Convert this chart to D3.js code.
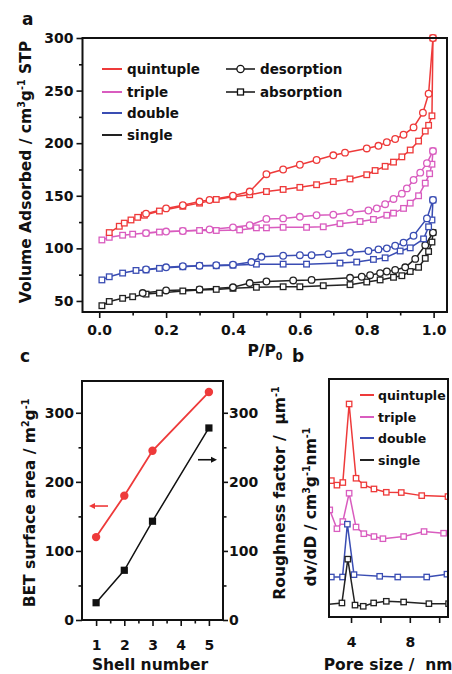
<!DOCTYPE html>
<html>
<head>
<meta charset="utf-8">
<script src="https://cdn.jsdelivr.net/npm/d3@7"></script>
<style>
  body { margin: 0; background: #fff; }
  text { font-family: "DejaVu Sans", sans-serif; font-weight: bold; fill: #111; white-space: pre; }
</style>
</head>
<body>
<svg id="fig" width="452" height="674"></svg>
<script>
// ---- panel a : N2 isotherms, [P/P0, volume] ----
var quintupleAds = [[0.03,115],[0.06,121],[0.075,124],[0.095,127],[0.115,129.5],[0.135,131.5],[0.18,135.5],[0.25,140],[0.3,143],[0.35,146.5],[0.4,149],[0.45,151],[0.5,154],[0.55,156],[0.6,158],[0.65,160.5],[0.7,163.5],[0.75,166],[0.8,170],[0.825,174],[0.855,178],[0.88,182],[0.905,187],[0.93,193.5],[0.955,202],[0.975,211.5],[0.985,217],[0.995,226],[0.998,300]];
var quintupleDes = [[0.998,300],[0.985,247],[0.968,229],[0.94,215],[0.91,208],[0.885,204],[0.86,201],[0.835,197.5],[0.8,195],[0.735,191],[0.7,188.5],[0.65,184],[0.6,179.5],[0.55,175],[0.5,170.5],[0.45,154],[0.4,150],[0.33,146],[0.3,144.5],[0.25,141],[0.2,138],[0.14,133]];
var tripleAds = [[0.008,108],[0.03,110.5],[0.07,112.5],[0.1,113.5],[0.14,114.5],[0.18,115.5],[0.25,116.5],[0.3,117],[0.35,117],[0.42,117.5],[0.47,119.5],[0.5,119.5],[0.55,120],[0.62,120],[0.67,120.5],[0.72,123.5],[0.78,125.5],[0.82,127.5],[0.86,131.5],[0.88,133.5],[0.91,138],[0.93,143],[0.955,150],[0.975,162],[0.988,171],[0.995,180],[0.998,192.5]];
var tripleDes = [[0.998,192.5],[0.98,181],[0.96,172],[0.94,165],[0.92,157],[0.905,152],[0.88,147],[0.855,142],[0.83,138],[0.805,136],[0.75,134],[0.7,132],[0.65,131.5],[0.6,130],[0.55,128.5],[0.5,128],[0.45,122],[0.4,120],[0.33,118],[0.25,116.5],[0.2,116],[0.14,114.5]];
var doubleAds = [[0.008,70],[0.03,73],[0.07,76.5],[0.11,79],[0.14,79.5],[0.18,81],[0.25,82.5],[0.3,83.5],[0.35,83.5],[0.4,84],[0.47,85],[0.55,85],[0.62,85],[0.72,86],[0.77,87],[0.82,89.5],[0.855,91],[0.9,97.5],[0.93,100.5],[0.97,109],[0.985,120.5],[0.995,127],[0.998,146]];
var doubleDes = [[0.998,146],[0.98,128.5],[0.94,112],[0.91,105.5],[0.885,102.5],[0.86,100],[0.835,99],[0.805,97.5],[0.75,96],[0.685,94.5],[0.635,93.5],[0.6,93.5],[0.55,93],[0.485,92],[0.455,87],[0.4,84.5],[0.35,84],[0.3,83.5],[0.25,83],[0.2,82],[0.14,80]];
var singleAds = [[0.008,45.5],[0.03,49.5],[0.07,52.5],[0.1,54],[0.14,56.5],[0.18,57.5],[0.25,59.5],[0.3,60.5],[0.35,61],[0.4,62],[0.47,63],[0.55,63.5],[0.6,63.5],[0.67,64.5],[0.75,65.5],[0.8,68],[0.84,70],[0.88,72.5],[0.905,74],[0.93,78],[0.955,82],[0.975,90.5],[0.985,97],[0.995,106],[0.998,115]];
var singleDes = [[0.998,115],[0.975,103],[0.945,90],[0.915,82],[0.885,79.5],[0.86,78],[0.84,76.5],[0.81,74.5],[0.785,73],[0.75,72],[0.635,70],[0.58,69.5],[0.5,68.5],[0.45,67],[0.4,63],[0.3,61],[0.2,60],[0.13,57.5]];

var seriesNames = ['quintuple', 'triple', 'double', 'single'];
var seriesColors = ['#ee3a3a', '#d95cbf', '#3a4db3', '#222222'];

// ---- panel c : BET area and roughness vs shell number ----
var shellNumbers = [1, 2, 3, 5];
var betArea = [120, 180, 245, 330];
var roughness = [25, 72, 143, 278];

// ---- panel b : pore size distribution (arbitrary, stacked offsets) ----
var poreQuintX = [2.66, 3.04, 3.44, 3.87, 4.34, 4.87, 5.56, 6.40, 7.42, 8.81, 10.6];
var poreQuintY = [57.3, 55.4, 56.5, 89.5, 58.3, 55.5, 53.8, 52.4, 52.3, 51.0, 50.6];
var poreTripleX = [2.55, 3.04, 3.44, 3.87, 4.34, 4.87, 5.56, 6.17, 7.58, 8.97, 10.3];
var poreTripleY = [45.0, 37.1, 40.1, 52.0, 37.8, 35.0, 33.8, 32.9, 33.8, 35.9, 35.2];
var poreDoubleX = [2.66, 3.42, 3.75, 4.2, 5.95, 7.18, 9.15, 10.53];
var poreDoubleY = [16.8, 16.8, 39.0, 17.8, 17.1, 16.8, 16.8, 18.0];
var poreSingleX = [2.3, 3.38, 3.78, 4.27, 4.83, 5.54, 6.4, 7.58, 9.3, 10.64];
var poreSingleY = [5.2, 5.9, 24.3, 5.0, 4.5, 5.9, 6.6, 6.3, 5.6, 5.6];

var svg = d3.select('#fig');
var tickFont = 14, titleFont = 15.5;

// text with super/subscripts: parts = [[text, 'sup'|'sub'|undefined], ...]
function richText(sel, parts, size) {
    var shift = 0;
    parts.forEach(function(p) {
        var target = p[1] === 'sup' ? -size * 0.42 : p[1] === 'sub' ? size * 0.28 : 0;
        sel.append('tspan')
            .attr('dy', target - shift)
            .attr('font-size', p[1] ? size * 0.62 : size)
            .text(p[0]);
        shift = target;
    });
    return sel;
}

// draw axis with labelled major ticks and unlabelled minor ticks
function drawAxis(g, axisFn, scale, major, minor, fmt, size, pad, transform) {
    var gMinor = g.append('g').attr('transform', transform)
        .call(axisFn(scale).tickValues(minor).tickSize(3.5).tickFormat(''));
    var gMajor = g.append('g').attr('transform', transform)
        .call(axisFn(scale).tickValues(major).tickSize(size).tickPadding(pad).tickFormat(fmt));
    [gMinor, gMajor].forEach(function(a) {
        a.select('.domain').remove();
        a.selectAll('line').attr('stroke', '#111').attr('stroke-width', 1.6);
        a.selectAll('text').attr('font-size', tickFont).attr('font-family', null);
    });
    return gMajor;
}

function frame(g, box) {
    g.append('rect').attr('x', box.left).attr('y', box.top)
        .attr('width', box.right - box.left).attr('height', box.bottom - box.top)
        .attr('fill', 'none').attr('stroke', '#111').attr('stroke-width', 2);
}

function markers(g, pts, x, y, shape, color, size) {
    if (shape === 'circle') {
        g.selectAll(null).data(pts).enter().append('circle')
            .attr('cx', function(d) { return x(d[0]); })
            .attr('cy', function(d) { return y(d[1]); })
            .attr('r', size).attr('fill', '#fff').attr('stroke', color).attr('stroke-width', 1.3);
    } else {
        g.selectAll(null).data(pts).enter().append('rect')
            .attr('x', function(d) { return x(d[0]) - size; })
            .attr('y', function(d) { return y(d[1]) - size; })
            .attr('width', size * 2).attr('height', size * 2)
            .attr('fill', '#fff').attr('stroke', color).attr('stroke-width', 1.3);
    }
}

// ================= panel a =================
var A = {left: 82.5, right: 447, top: 38, bottom: 312};
var xA = d3.scaleLinear().domain([-0.05, 1.04]).range([A.left, A.right]);
var yA = d3.scaleLinear().domain([39.5, 300]).range([A.bottom, A.top]);
var gA = svg.append('g');

var lineA = d3.line().x(function(d) { return xA(d[0]); }).y(function(d) { return yA(d[1]); });
var isotherms = [[quintupleAds, quintupleDes], [tripleAds, tripleDes], [doubleAds, doubleDes], [singleAds, singleDes]];
for (var i = isotherms.length - 1; i >= 0; i--) {
    var c = seriesColors[i];
    var gs = gA.append('g');
    gs.append('path').attr('d', lineA(isotherms[i][0])).attr('fill', 'none').attr('stroke', c).attr('stroke-width', 1.5);
    gs.append('path').attr('d', lineA(isotherms[i][1])).attr('fill', 'none').attr('stroke', c).attr('stroke-width', 1.5);
    markers(gs, isotherms[i][0], xA, yA, 'square', c, 2.8);
    markers(gs, isotherms[i][1], xA, yA, 'circle', c, 3.3);
}
frame(gA, A);

drawAxis(gA, d3.axisBottom, xA, [0, 0.2, 0.4, 0.6, 0.8, 1.0], [0.1, 0.3, 0.5, 0.7, 0.9], d3.format('.1f'), 6, 7, 'translate(0,' + A.bottom + ')');
drawAxis(gA, d3.axisLeft, yA, [50, 100, 150, 200, 250, 300], [75, 125, 175, 225, 275], d3.format('d'), 6, 3, 'translate(' + A.left + ',0)');

richText(gA.append('text').attr('x', 265).attr('y', 356).attr('text-anchor', 'middle'),
    [['P/P'], ['0', 'sub']], titleFont);
richText(gA.append('text').attr('transform', 'translate(31,172) rotate(-90)').attr('text-anchor', 'middle'),
    [['Volume Adsorbed / cm'], ['3', 'sup'], ['g'], ['-1', 'sup'], [' STP']], titleFont);
gA.append('text').attr('x', 22).attr('y', 25).attr('font-size', 17).text('a');

// legend a
var legA = gA.append('g');
seriesNames.forEach(function(name, k) {
    var yy = [69, 92, 113, 135][k];
    legA.append('line').attr('x1', 102).attr('x2', 122).attr('y1', yy).attr('y2', yy)
        .attr('stroke', seriesColors[k]).attr('stroke-width', 2);
    legA.append('text').attr('x', 127).attr('y', yy + 5).attr('font-size', 13.5).text(name);
});
[['desorption', 'circle', 69], ['absorption', 'square', 92]].forEach(function(d) {
    legA.append('line').attr('x1', 226).attr('x2', 255).attr('y1', d[2]).attr('y2', d[2])
        .attr('stroke', '#111').attr('stroke-width', 1.5);
    var ls = d3.scaleLinear().domain([0, 1]).range([0, 1]);
    markers(legA, [[240.5, d[2]]], ls, ls, d[1], '#111', d[1] === 'circle' ? 3.6 : 3);
    legA.append('text').attr('x', 260).attr('y', d[2] + 5).attr('font-size', 13.5).text(d[0]);
});

// ================= panel c =================
var C = {left: 82, right: 223, top: 381, bottom: 620};
var xC = d3.scaleLinear().domain([0.5, 5.5]).range([C.left, C.right]);
var yC = d3.scaleLinear().domain([0, 346]).range([C.bottom, C.top]);
var gC = svg.append('g');

var betPts = shellNumbers.map(function(s, k) { return [s, betArea[k]]; });
var rfPts = shellNumbers.map(function(s, k) { return [s, roughness[k]]; });
var lineC = d3.line().x(function(d) { return xC(d[0]); }).y(function(d) { return yC(d[1]); });

gC.append('path').attr('d', lineC(rfPts)).attr('fill', 'none').attr('stroke', '#111').attr('stroke-width', 1.5);
gC.selectAll(null).data(rfPts).enter().append('rect')
    .attr('x', function(d) { return xC(d[0]) - 3.6; }).attr('y', function(d) { return yC(d[1]) - 3.6; })
    .attr('width', 7.2).attr('height', 7.2).attr('fill', '#111');
gC.append('path').attr('d', lineC(betPts)).attr('fill', 'none').attr('stroke', seriesColors[0]).attr('stroke-width', 1.8);
gC.selectAll(null).data(betPts).enter().append('circle')
    .attr('cx', function(d) { return xC(d[0]); }).attr('cy', function(d) { return yC(d[1]); })
    .attr('r', 4.2).attr('fill', seriesColors[0]);
frame(gC, C);

var ticksC = d3.range(0, 301, 50), majorC = [0, 100, 200, 300];
var minorC = ticksC.filter(function(v) { return majorC.indexOf(v) < 0; });
drawAxis(gC, d3.axisBottom, xC, [1, 2, 3, 4, 5], [1.5, 2.5, 3.5, 4.5], d3.format('d'), 6, 14, 'translate(0,' + C.bottom + ')');
drawAxis(gC, d3.axisLeft, yC, majorC, minorC, d3.format('d'), 6, 2, 'translate(' + C.left + ',0)');
drawAxis(gC, d3.axisRight, yC, majorC, minorC, d3.format('d'), 5, 1, 'translate(' + C.right + ',0)');

// direction arrows
function arrow(g, x1, x2, yv, color) {
    var yy = yC(yv), dir = x2 > x1 ? 1 : -1;
    g.append('line').attr('x1', x1).attr('x2', x2 - dir * 4).attr('y1', yy).attr('y2', yy)
        .attr('stroke', color).attr('stroke-width', 1.6);
    g.append('path').attr('d', 'M' + x2 + ',' + yy + 'l' + (-dir * 6) + ',-3l0,6z').attr('fill', color);
}
arrow(gC, 108, 89, 165, seriesColors[0]);
arrow(gC, 198, 217, 232, '#111');

richText(gC.append('text').attr('x', 150).attr('y', 670).attr('text-anchor', 'middle'), [['Shell number']], titleFont);
richText(gC.append('text').attr('transform', 'translate(35,503) rotate(-90)').attr('text-anchor', 'middle'),
    [['BET surface area / m'], ['2', 'sup'], ['g'], ['-1', 'sup']], titleFont);
richText(gC.append('text').attr('transform', 'translate(285,493) rotate(-90)').attr('text-anchor', 'middle'),
    [['Roughness factor /\u00a0 \u03bcm'], ['-1', 'sup']], titleFont);
gC.append('text').attr('x', 20).attr('y', 362).attr('font-size', 17).text('c');

// ================= panel b =================
var B = {left: 329, right: 448, top: 379, bottom: 617};
var xB = d3.scaleLinear().domain([2.5, 10.6]).range([B.left, B.right]);
var yB = d3.scaleLinear().domain([0, 100]).range([B.bottom, B.top]);
var gB = svg.append('g');
svg.append('clipPath').attr('id', 'clipB').append('rect')
    .attr('x', B.left).attr('y', B.top).attr('width', B.right - B.left).attr('height', B.bottom - B.top);

var poreSeries = [[poreQuintX, poreQuintY], [poreTripleX, poreTripleY], [poreDoubleX, poreDoubleY], [poreSingleX, poreSingleY]];
var lineB = d3.line().x(function(d) { return xB(d[0]); }).y(function(d) { return yB(d[1]); });
var plotB = gB.append('g').attr('clip-path', 'url(#clipB)');
poreSeries.forEach(function(s, k) {
    var pts = s[0].map(function(x, j) { return [x, s[1][j]]; });
    plotB.append('path').attr('d', lineB(pts)).attr('fill', 'none').attr('stroke', seriesColors[k]).attr('stroke-width', 1.5);
    markers(plotB, pts, xB, yB, 'square', seriesColors[k], 2.7);
});
frame(gB, B);
drawAxis(gB, d3.axisBottom, xB, [4, 8], [6, 10], d3.format('d'), 6, 14, 'translate(0,' + B.bottom + ')');
gB.selectAll('.tick line').attr('y2', 6);

var legB = gB.append('g');
seriesNames.forEach(function(name, k) {
    var yy = [395, 417, 438, 460][k];
    legB.append('line').attr('x1', 360).attr('x2', 374).attr('y1', yy).attr('y2', yy)
        .attr('stroke', seriesColors[k]).attr('stroke-width', 2);
    legB.append('text').attr('x', 378).attr('y', yy + 4.5).attr('font-size', 12.5).text(name);
});

richText(gB.append('text').attr('x', 388).attr('y', 670).attr('text-anchor', 'middle'), [['Pore size /\u00a0 nm']], titleFont);
richText(gB.append('text').attr('transform', 'translate(316,507) rotate(-90)').attr('text-anchor', 'middle'),
    [['dv/dD / cm'], ['3', 'sup'], ['g'], ['-1', 'sup'], ['nm'], ['-1', 'sup']], titleFont);
gB.append('text').attr('x', 292).attr('y', 362).attr('font-size', 17).text('b');
</script>
</body>
</html>
